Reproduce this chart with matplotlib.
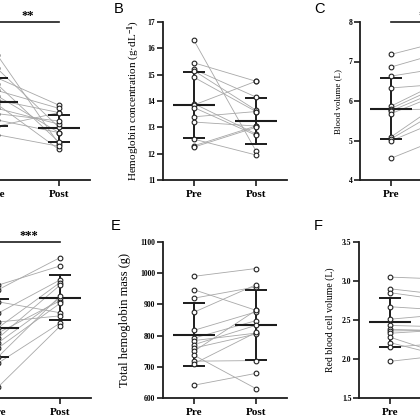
import numpy as np
import matplotlib.pyplot as plt

plt.rcParams['font.family'] = 'Liberation Serif'
plt.rcParams['font.weight'] = 'bold'
plt.rcParams['mathtext.fontset'] = 'custom'
plt.rcParams['mathtext.rm'] = 'Liberation Serif:bold'
plt.rcParams['mathtext.default'] = 'rm'

groups = ['Pre', 'Post']

# A - hematocrit (axis lies left of the crop)
hct_pre = [46.9, 45.6, 44.7, 44.1, 43.5, 43.0, 42.6, 42.2, 41.8, 41.3, 40.7, 40.1, 39.3]
hct_post = [38.4, 40.0, 42.1, 38.6, 41.8, 39.5, 41.4, 37.9, 40.3, 40.6, 39.5, 41.4, 38.2]
hct_mean = [42.4, 39.9]
hct_sd = [2.3, 1.25]

# B - hemoglobin concentration
hb_pre = [16.3, 15.45, 15.2, 15.15, 14.9, 13.9, 13.85, 13.75, 13.4, 13.2, 12.55, 12.3, 12.25]
hb_post = [12.1, 14.75, 14.15, 13.65, 13.6, 12.75, 14.75, 12.7, 13.6, 13.05, 11.95, 13.05, 13.0]
hb_mean = [13.85, 13.23]
hb_sd = [1.25, 0.88]

# C - blood volume
bv_pre = [7.18, 6.86, 6.63, 6.33, 5.87, 5.81, 5.78, 5.75, 5.68, 5.09, 5.04, 4.99, 4.55]
bv_post = [7.58, 7.31, 6.88, 6.45, 6.64, 6.53, 5.80, 6.41, 6.31, 6.17, 5.96, 5.65, 5.18]
bv_mean = [5.81, 6.32]
bv_sd = [0.77, 0.65]

# D - plasma volume (axis lies left of the crop)
pv_pre = [4.17, 4.08, 3.85, 3.63, 3.46, 3.35, 3.25, 3.15, 3.06, 2.96, 2.79, 2.67, 2.21]
pv_post = [4.54, 4.70, 3.64, 4.27, 3.58, 4.22, 3.87, 4.17, 3.92, 3.82, 3.96, 3.44, 3.38]
pv_mean = [3.35, 3.93]
pv_sd = [0.56, 0.43]

# E - total hemoglobin mass
thb_pre = [990, 947, 920, 875, 817, 792, 784, 771, 760, 750, 737, 718, 710, 641]
thb_post = [1015, 881, 956, 963, 876, 848, 808, 833, 805, 881, 630, 720, 810, 679]
thb_mean = [803, 835]
thb_sd = [102, 112]

# F - red blood cell volume
rbc_pre = [3.05, 2.90, 2.85, 2.67, 2.51, 2.43, 2.38, 2.36, 2.33, 2.28, 2.21, 2.15, 1.97]
rbc_post = [3.02, 2.81, 2.74, 2.62, 2.58, 2.41, 2.36, 2.37, 2.38, 2.02, 2.01, 2.21, 2.06]
rbc_mean = [2.47, 2.44]
rbc_sd = [0.31, 0.30]

W = H = 420.0
fig = plt.figure(figsize=(4.2, 4.2), dpi=100)


def make_ax(left, top, bottom, width=124):
    return fig.add_axes([left / W, 1 - bottom / H, width / W, (bottom - top) / H])


def paired_panel(ax, pre, post, mean, sd, ylim, yticks, ylabel=None, label_size=7.5,
                 label_x=-0.2, fmt='{:g}', stars=None, show_yticklabels=True):
    x = [0, 1]
    for a, b in zip(pre, post):
        ax.plot(x, [a, b], color='#a8a8a8', lw=0.6, zorder=1)
    for i in range(2):
        ax.plot([i - 0.34, i + 0.34], [mean[i]] * 2, color='#1c1c1c', lw=1.5,
                solid_capstyle='butt', zorder=2)
        ax.plot([i, i], [mean[i] - sd[i], mean[i] + sd[i]], color='#1c1c1c', lw=1.4, zorder=2)
        for y in (mean[i] - sd[i], mean[i] + sd[i]):
            ax.plot([i - 0.18, i + 0.18], [y, y], color='#1c1c1c', lw=1.4,
                    solid_capstyle='butt', zorder=2)
    ax.plot(np.zeros(len(pre)), pre, 'o', mfc='white', mec='#222222', ms=3.4, mew=0.8, zorder=3)
    ax.plot(np.ones(len(post)), post, 'o', mfc='white', mec='#222222', ms=3.4, mew=0.8, zorder=3)

    ax.set_xlim(-0.5, 1.5)
    ax.set_ylim(*ylim)
    ax.set_xticks(x)
    ax.set_xticklabels(groups, fontsize=8)
    ax.set_yticks(yticks)
    if show_yticklabels:
        ax.set_yticklabels([fmt.format(v) for v in yticks], fontsize=5.5)
    else:
        ax.set_yticklabels([])
    ax.tick_params(axis='both', direction='out', length=4, width=1.2, color='#1c1c1c')
    ax.tick_params(axis='y', pad=1.5)
    ax.tick_params(axis='x', pad=3)
    for s in ('top', 'right'):
        ax.spines[s].set_visible(False)
    for s in ('left', 'bottom'):
        ax.spines[s].set_linewidth(1.3)
        ax.spines[s].set_color('#1c1c1c')
    if ylabel:
        ax.set_ylabel(ylabel, fontsize=label_size)
        ax.yaxis.set_label_coords(label_x, 0.5)
    if stars:
        top = ylim[1]
        ax.plot([0, 1], [top, top], color='#1c1c1c', lw=1.2, clip_on=False)
        ax.annotate(stars, (0.5, top), xytext=(0, 2), textcoords='offset points',
                    ha='center', va='baseline', fontsize=9, annotation_clip=False)


cols = [-34, 163, 360]

ax_a = make_ax(cols[0], 22, 180)
paired_panel(ax_a, hct_pre, hct_post, hct_mean, hct_sd, (35, 50), [35, 40, 45, 50],
             stars='**', show_yticklabels=False)

ax_b = make_ax(cols[1], 22, 180)
paired_panel(ax_b, hb_pre, hb_post, hb_mean, hb_sd, (11, 17), list(range(11, 18)),
             ylabel='Hemoglobin concentration (g·dL$^{-1}$)', label_size=8, label_x=-0.17)

ax_c = make_ax(cols[2], 22, 180)
paired_panel(ax_c, bv_pre, bv_post, bv_mean, bv_sd, (4, 8), [4, 5, 6, 7, 8],
             ylabel='Blood volume (L)', label_size=6.5, label_x=-0.145, stars='*')

ax_d = make_ax(cols[0] + 1, 242, 398)
paired_panel(ax_d, pv_pre, pv_post, pv_mean, pv_sd, (2, 5), [2, 3, 4, 5],
             stars='***', show_yticklabels=False)

ax_e = make_ax(cols[1], 242, 398)
paired_panel(ax_e, thb_pre, thb_post, thb_mean, thb_sd, (600, 1100),
             list(range(600, 1101, 100)), ylabel='Total hemoglobin mass (g)',
             label_size=9, label_x=-0.255)

ax_f = make_ax(cols[2] - 1, 242, 398)
paired_panel(ax_f, rbc_pre, rbc_post, rbc_mean, rbc_sd, (1.5, 3.5),
             [1.5, 2.0, 2.5, 3.0, 3.5], ylabel='Red blood cell volume (L)',
             label_size=7, label_x=-0.19, fmt='{:.1f}')

for letter, (px, py) in {'B': (114, 2), 'C': (314, 2), 'E': (111, 219), 'F': (314, 219)}.items():
    fig.text(px / W, 1 - py / H, letter, fontsize=10.5, fontweight='normal',
             family='Liberation Sans', ha='left', va='top')

fig.savefig('out.png', dpi=100, facecolor='white')
